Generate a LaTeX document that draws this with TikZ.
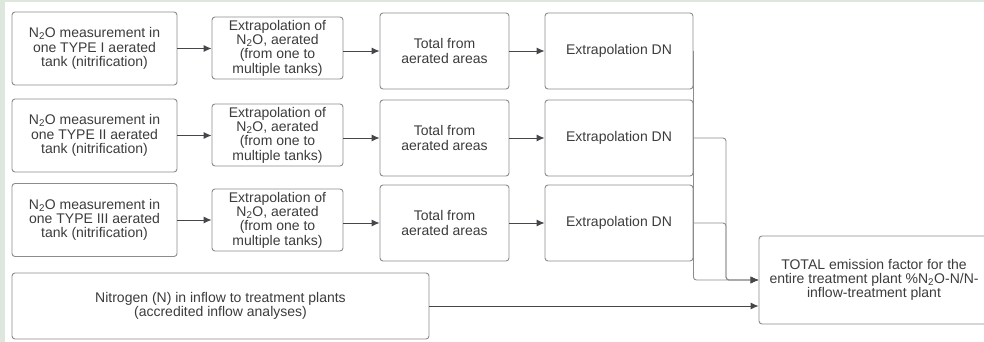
\documentclass[tikz,border=0pt]{standalone}
\usepackage{fontspec}
\setmainfont{Liberation Sans}
\usepackage{tikz}
\usetikzlibrary{arrows.meta}
\definecolor{boxgray}{HTML}{8C8C8C}
\definecolor{txtgray}{HTML}{3C3C3C}
\definecolor{linegray}{HTML}{45474A}
\definecolor{framegreen}{HTML}{DDE7DD}

\begin{document}
\begin{tikzpicture}[x=1pt,y=-1pt]
        \tikzset{box/.style = {draw=boxgray, rounded corners=3pt, align=center, text=txtgray, inner sep=0pt, line width=0.9pt, font=\fontsize{14}{14.3}\selectfont}}
        \tikzset{tankbox/.style = {box, minimum width=165pt, minimum height=73pt}}
        \tikzset{extrabox/.style = {box, minimum width=131pt, minimum height=62pt}}
        \tikzset{totalbox/.style = {box, minimum width=129pt, minimum height=76pt}}
        \tikzset{dnbox/.style = {box, minimum width=148pt, minimum height=76pt}}
        \tikzset{edge/.style = {-{Latex[length=8pt,width=7pt]}, draw=linegray, line width=0.9pt}}
        \tikzset{feed/.style = {-{Latex[length=8pt,width=7pt,color=linegray]}, draw=boxgray, line width=0.9pt, rounded corners=3pt}}

        \fill[framegreen] (0,0) rectangle (984,342);
        \fill[white] (5,2) rectangle (984,342);
        \useasboundingbox (0,0) rectangle (984,342);

        % row 1
        \node[tankbox] (m1) at (94.5,48.5) {N\textsubscript{2}O measurement in\\one TYPE I aerated\\tank (nitrification)};
        \node[extrabox] (x1) at (277.5,48) {Extrapolation of\\N\textsubscript{2}O, aerated\\(from one to\\multiple tanks)};
        \node[totalbox] (t1) at (444.5,51) {Total from\\aerated areas};
        \node[dnbox] (d1) at (619,51) {Extrapolation DN};

        % row 2
        \node[tankbox] (m2) at (94.5,135.5) {N\textsubscript{2}O measurement in\\one TYPE II aerated\\tank (nitrification)};
        \node[extrabox] (x2) at (277.5,135) {Extrapolation of\\N\textsubscript{2}O, aerated\\(from one to\\multiple tanks)};
        \node[totalbox] (t2) at (444.5,138) {Total from\\aerated areas};
        \node[dnbox] (d2) at (619,138) {Extrapolation DN};

        % row 3
        \node[tankbox] (m3) at (94.5,220) {N\textsubscript{2}O measurement in\\one TYPE III aerated\\tank (nitrification)};
        \node[extrabox] (x3) at (277.5,220) {Extrapolation of\\N\textsubscript{2}O, aerated\\(from one to\\multiple tanks)};
        \node[totalbox] (t3) at (444.5,223) {Total from\\aerated areas};
        \node[dnbox] (d3) at (619,223) {Extrapolation DN};

        % inflow and total
        \node[box, minimum width=417pt, minimum height=66pt] (n) at (220.5,306) {Nitrogen (N) in inflow to treatment plants\\(accredited inflow analyses)};
        \node[box, minimum width=230pt, minimum height=88pt] (f) at (874,280) {TOTAL emission factor for the\\entire treatment plant \%N\textsubscript{2}O-N/N-\\inflow-treatment plant};

        \coordinate (bus) at (726,280);

        \draw[edge] (m1) to (m1 -| x1.west);
        \draw[edge] (x1.east |- t1) to (t1.west);
        \draw[edge] (t1) to (d1);

        \draw[edge] (m2) to (m2 -| x2.west);
        \draw[edge] (x2.east |- t2) to (t2.west);
        \draw[edge] (t2) to (d2);

        \draw[edge] (m3) to (m3 -| x3.west);
        \draw[edge] (x3.east |- t3) to (t3.west);
        \draw[edge] (t3) to (d3);

        \draw[feed] (d1.east) |- (f.west);
        \draw[feed] (d2.east) -| (bus) -- (f.west);
        \draw[feed] (d3.east) -| (bus) -- (f.west);
        \draw[edge] (n.east) to (n.east -| f.west);
    \end{tikzpicture}
\end{document}
